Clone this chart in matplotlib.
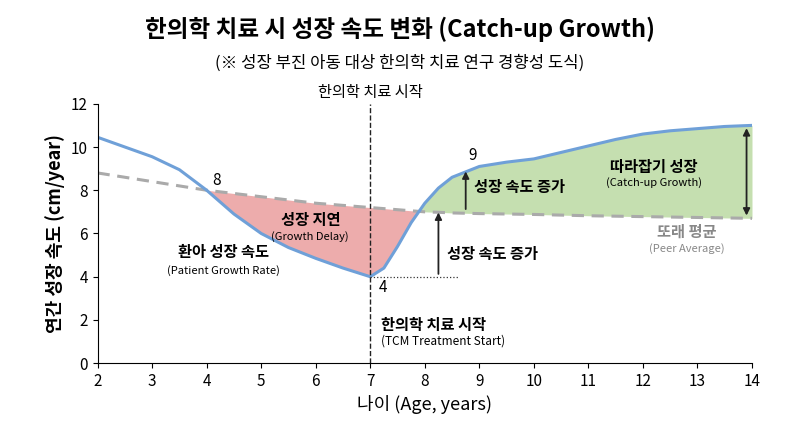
import numpy as np
import matplotlib.pyplot as plt

plt.rcParams['font.family'] = ['Noto Sans CJK KR', 'DejaVu Sans']

# data
age = [2, 2.5, 3, 3.5, 4, 4.5, 5, 5.5, 6, 6.5, 7, 7.25, 7.5, 7.75, 8, 8.25, 8.5, 9, 9.5, 10, 10.5, 11, 11.5, 12, 12.5, 13, 13.5, 14]
patient = [10.45, 10.0, 9.55, 8.95, 8.0, 6.9, 6.0, 5.35, 4.85, 4.4, 4.0, 4.4, 5.4, 6.5, 7.4, 8.1, 8.6, 9.1, 9.3, 9.45, 9.75, 10.05, 10.35, 10.6, 10.75, 10.85, 10.95, 11.0]
peer = [8.8, 8.6, 8.4, 8.2, 8.0, 7.85, 7.7, 7.55, 7.4, 7.3, 7.2, 7.15, 7.1, 7.05, 7.0, 6.98, 6.95, 6.92, 6.9, 6.88, 6.85, 6.82, 6.8, 6.78, 6.76, 6.74, 6.72, 6.7]

fig, ax = plt.subplots(figsize=(8, 4.36), dpi=100)
fig.subplots_adjust(left=0.122, right=0.94, top=0.762, bottom=0.167)

p = np.array(patient)
q = np.array(peer)
x = np.array(age)
ax.fill_between(x, p, q, where=(x >= 4) & (p <= q), color='#e89090', alpha=0.75, interpolate=True, lw=0)
ax.fill_between(x, p, q, where=(x >= 7) & (p >= q), color='#b7d89c', alpha=0.8, interpolate=True, lw=0)
ax.plot(x, q, '--', color='#aaaaaa', lw=2.2, dashes=(4, 2.5))
ax.plot(x, p, color='#6fa0d8', lw=2.2)

ax.axvline(7, color='#222', ls='--', lw=1)
ax.plot([7, 8.6], [4, 4], ':', color='#333', lw=0.9)

ax.set_xlim(2, 14)
ax.set_ylim(0, 12)
ax.set_xticks(range(2, 15))
ax.set_yticks(range(0, 13, 2))
ax.tick_params(labelsize=11)
for s in ['top', 'right']:
    ax.spines[s].set_visible(False)
ax.set_xlabel('나이 (Age, years)', fontsize=13)
ax.set_ylabel('연간 성장 속도 (cm/year)', fontsize=13, fontweight='bold')

fig.text(0.5, 0.915, '한의학 치료 시 성장 속도 변화 (Catch-up Growth)', ha='center', fontsize=17, fontweight='bold')
fig.text(0.5, 0.845, '(※ 성장 부진 아동 대상 한의학 치료 연구 경향성 도식)', ha='center', fontsize=12)

ax.text(7, 12.3, '한의학 치료 시작', ha='center', fontsize=11)
ax.text(4.1, 8.25, '8', fontsize=11)
ax.text(7.15, 3.3, '4', fontsize=11)
ax.text(8.8, 9.4, '9', fontsize=11)
ax.text(7.2, 1.55, '한의학 치료 시작', fontsize=11, fontweight='bold')
ax.text(7.2, 0.85, '(TCM Treatment Start)', fontsize=8.5)
ax.text(5.9, 6.4, '성장 지연', ha='center', fontsize=11, fontweight='bold')
ax.text(5.9, 5.7, '(Growth Delay)', ha='center', fontsize=8)
ax.text(4.3, 4.9, '환아 성장 속도', ha='center', fontsize=11, fontweight='bold')
ax.text(4.3, 4.15, '(Patient Growth Rate)', ha='center', fontsize=8)
ax.text(8.4, 4.8, '성장 속도 증가', fontsize=11, fontweight='bold')
ax.text(8.9, 7.9, '성장 속도 증가', fontsize=11, fontweight='bold')
ax.text(12.2, 8.85, '따라잡기 성장', ha='center', fontsize=11, fontweight='bold')
ax.text(12.2, 8.2, '(Catch-up Growth)', ha='center', fontsize=8)
ax.text(12.8, 5.85, '또래 평균', ha='center', fontsize=11, color='#888', fontweight='bold')
ax.text(12.8, 5.15, '(Peer Average)', ha='center', fontsize=8, color='#888')

arr = dict(arrowstyle='-|>', color='#222', lw=1.3)
ax.annotate('', xy=(8.25, 7.1), xytext=(8.25, 4.0), arrowprops=arr)
ax.annotate('', xy=(8.75, 9.0), xytext=(8.75, 7.0), arrowprops=arr)
ax.annotate('', xy=(13.9, 11.0), xytext=(13.9, 6.7), arrowprops=dict(arrowstyle='<|-|>', color='#222', lw=1.3))

fig.savefig('out.png')
